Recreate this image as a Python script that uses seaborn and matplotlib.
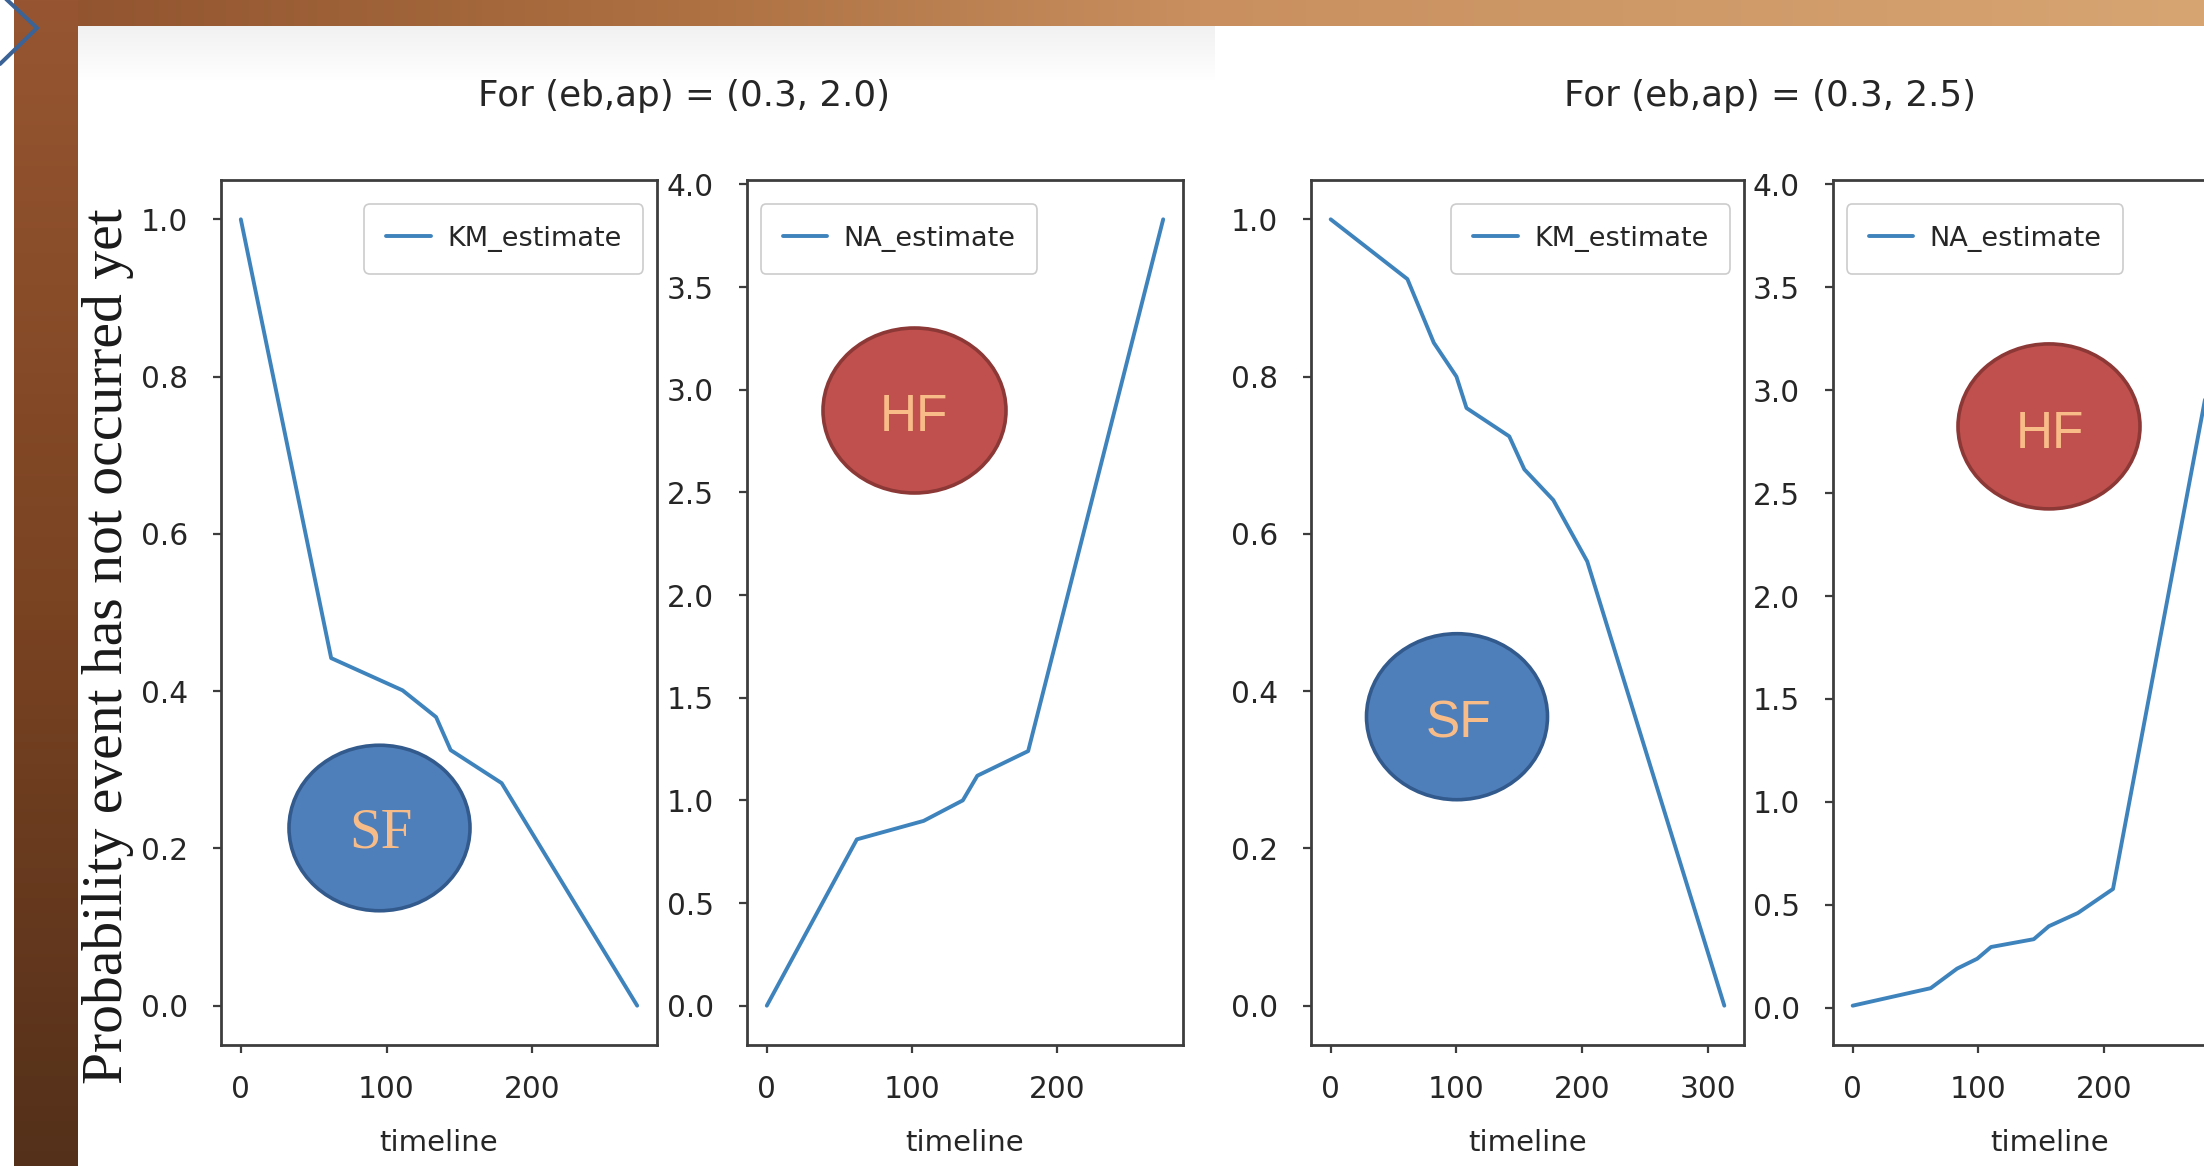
import numpy as np
import matplotlib
matplotlib.use("Agg")
import matplotlib.pyplot as plt
import seaborn as sns
from matplotlib.patches import Ellipse
from matplotlib import font_manager

# ---------------- data ----------------
km_time_a = [0, 62, 111, 134, 144, 179, 272]
km_a = [1.0, 0.442, 0.401, 0.367, 0.325, 0.283, 0.0]
na_time_a = [0, 62, 108, 135, 145, 180, 273]
na_a = [0.0, 0.81, 0.90, 1.00, 1.12, 1.24, 3.83]

km_time_b = [0, 61, 82, 100, 108, 142, 154, 177, 204, 313]
km_b = [1.0, 0.924, 0.843, 0.80, 0.76, 0.724, 0.682, 0.643, 0.565, 0.0]
na_time_b = [0, 62, 83, 99, 110, 144, 156, 179, 207, 280, 313]
na_b = [0.01, 0.095, 0.19, 0.238, 0.295, 0.333, 0.396, 0.46, 0.577, 2.95, 3.83]

titles = ["For (eb,ap) = (0.3, 2.0)", "For (eb,ap) = (0.3, 2.5)"]
km_label = "KM_estimate"
na_label = "NA_estimate"
x_label = "timeline"
y_label = "Probability event has not occurred yet"
km_ticks = [0.0, 0.2, 0.4, 0.6, 0.8, 1.0]
na_ticks = [0.0, 0.5, 1.0, 1.5, 2.0, 2.5, 3.0, 3.5, 4.0]
x_ticks_a = [0, 100, 200]
x_ticks_b = [0, 100, 200, 300]
x_ticks_c = [0, 100, 200]   # last panel is cut by the slide edge

# ---------------- setup ----------------
W, H = 2204, 1166
sns.set_theme(style="white")
names = {f.name for f in font_manager.fontManager.ttflist}
narrow = "Liberation Sans Narrow" in names
if narrow:
    plt.rcParams["font.family"] = ["Liberation Sans Narrow", "DejaVu Sans"]
    TICK, LAB, LEG, TITLE = 26, 27, 27, 33
else:
    plt.rcParams["font.family"] = ["DejaVu Sans"]
    TICK, LAB, LEG, TITLE = 21.3, 21, 19.5, 25.7
TXT = "#262626"
SPINE = "#3d3d3d"
LINE = "#3f83bd"
PEACH = "#f8bc88"

fig = plt.figure(figsize=(W / 100, H / 100), dpi=100)
fig.patch.set_facecolor("white")

# ---------------- slide background ----------------
def hex2rgb(h):
    h = h.lstrip("#")
    return np.array([int(h[i:i + 2], 16) / 255 for i in (0, 2, 4)])

def gradient(n, pos, cols):
    cols = np.array([hex2rgb(c) for c in cols])
    t = np.arange(n)
    return np.stack([np.interp(t, pos, cols[:, i]) for i in range(3)], axis=1)

bg = np.ones((H, W, 3))
top = gradient(W, [0, 700, 1200, W - 1], ["#8e512d", "#ad7142", "#c98f5f", "#d6a572"])
bg[:26, :, :] = top[None, :, :]
left = gradient(H, [0, 600, H - 1], ["#975631", "#7a4322", "#54301a"])
bg[:, 14:78, :] = left[:, None, :]
bg[:, :14, :] = 1.0
g = np.interp(np.arange(26, 80), [26, 80], [0.945, 1.0])
bg[26:80, 78:1215, :] = g[:, None, None]

bgax = fig.add_axes([0, 0, 1, 1], zorder=-10)
bgax.imshow(bg, extent=(0, W, H, 0), aspect="auto", interpolation="bilinear")
bgax.plot([5, 37, 0], [-2, 28, 64], color="#3b6396", lw=2.9, solid_joinstyle="miter")
bgax.set_xlim(0, W)
bgax.set_ylim(H, 0)
bgax.axis("off")

# ---------------- axes ----------------
def px_axes(l, t, w, h):
    return fig.add_axes([l / W, 1 - (t + h) / H, w / W, h / H])

ax1 = px_axes(221, 180, 436, 865)
ax2 = px_axes(747, 180, 436, 865)
ax3 = px_axes(1311, 180, 433, 865)
ax4 = px_axes(1833, 180, 433, 865)

specs = [
    (ax1, km_time_a, km_a, km_label, km_ticks, x_ticks_a, "upper right", (0.968, 0.972)),
    (ax2, na_time_a, na_a, na_label, na_ticks, x_ticks_a, "upper left", (0.032, 0.972)),
    (ax3, km_time_b, km_b, km_label, km_ticks, x_ticks_b, "upper right", (0.968, 0.972)),
    (ax4, na_time_b, na_b, na_label, na_ticks, x_ticks_c, "upper left", (0.032, 0.972)),
]

for ax, xs, ys, lab, yt, xt, loc, anchor in specs:
    sns.lineplot(x=xs, y=ys, ax=ax, color=LINE, lw=2.8, label=lab)
    ax.set_facecolor("white")
    ax.grid(False)
    ax.set_yticks(yt)
    ax.set_yticklabels([f"{v:.1f}" for v in yt])
    ax.set_xticks(xt)
    ax.set_xticklabels([str(v) for v in xt])
    for s in ax.spines.values():
        s.set_color(SPINE)
        s.set_linewidth(2.0)
    ax.tick_params(axis="both", which="major", bottom=True, left=True, direction="out",
                   length=5.8, width=1.6, color=SPINE, labelsize=TICK, labelcolor=TXT)
    ax.tick_params(axis="x", pad=16)
    ax.tick_params(axis="y", pad=18)
    ax.set_xlabel(x_label, fontsize=LAB, color=TXT, labelpad=18)
    ax.set_ylabel("")
    leg = ax.legend(loc=loc, bbox_to_anchor=anchor, borderaxespad=0, fontsize=LEG,
                    frameon=True, fancybox=True, framealpha=1, edgecolor="#cccccc",
                    borderpad=0.8, handlelength=1.65, handletextpad=0.6)
    leg.get_frame().set_linewidth(1.2)
    for t in leg.get_texts():
        t.set_color(TXT)

# ---------------- texts ----------------
fig.text(684 / W, 1 - 106 / H, titles[0], ha="center", va="baseline", fontsize=TITLE, color=TXT)
fig.text(1770 / W, 1 - 106 / H, titles[1], ha="center", va="baseline", fontsize=TITLE, color=TXT)
fig.text(107.8 / W, 1 - 646.5 / H, y_label, rotation=90, ha="center", va="center",
         fontsize=41.5, color="#1a1a1a", family=["Liberation Serif", "DejaVu Serif"])

# ---------------- overlay shapes ----------------
def ellipse(cx, cy, w, h, fc, ec):
    fig.add_artist(Ellipse((cx / W, 1 - cy / H), w / W, h / H, transform=fig.transFigure,
                           facecolor=fc, edgecolor=ec, lw=2.6, zorder=5))

def label(cx, base, s, fam, size):
    fig.text(cx / W, 1 - base / H, s, ha="center", va="baseline", fontsize=size,
             color=PEACH, family=fam, zorder=6)

BLUE, BLUE_E = "#4f7fbb", "#335a8c"
RED, RED_E = "#c0504d", "#8c3836"
ellipse(379.5, 828, 181, 165.5, BLUE, BLUE_E)
label(381, 847, "SF", ["Liberation Serif", "DejaVu Serif"], 41)
ellipse(1457, 716.7, 181, 166, BLUE, BLUE_E)
label(1458, 738, "SF", ["Liberation Sans", "DejaVu Sans"], 37)
ellipse(914.5, 410.5, 183, 165, RED, RED_E)
label(914, 431, "HF", ["Liberation Sans", "DejaVu Sans"], 37)
ellipse(2049, 426.4, 182, 165, RED, RED_E)
label(2050, 448, "HF", ["Liberation Sans", "DejaVu Sans"], 37)

fig.savefig("out.png", dpi=100, facecolor=fig.get_facecolor())
